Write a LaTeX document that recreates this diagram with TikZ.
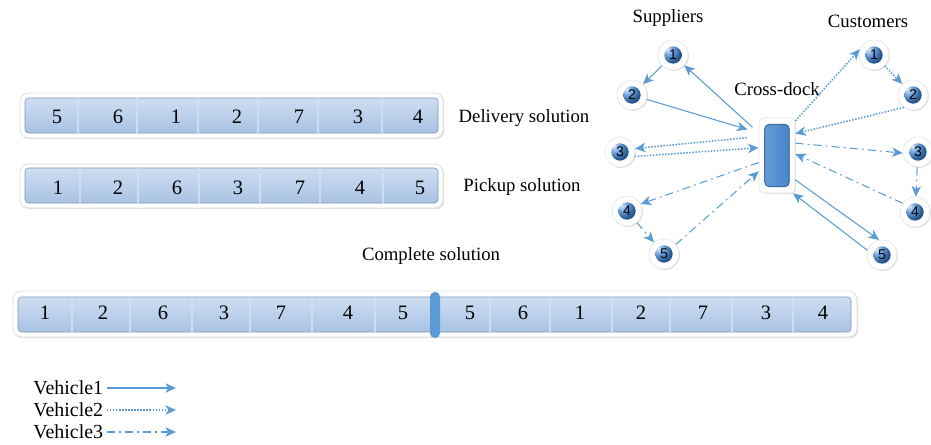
\documentclass[tikz,border=0pt]{standalone}
\usepackage{fontspec}
\setmainfont{Liberation Serif}
\setsansfont{Liberation Sans}
\usetikzlibrary{arrows.meta, positioning, shadows}

\definecolor{lineblue}{RGB}{91,155,213}
\definecolor{celltop}{RGB}{206,222,242}
\definecolor{cellbot}{RGB}{168,194,228}
\definecolor{cellline}{RGB}{125,150,185}
\definecolor{ballblue}{RGB}{58,128,208}
\definecolor{dockblue}{RGB}{62,128,200}

\begin{document}
\begin{tikzpicture}[
    x=0.03cm, y=-0.03cm,
    frame/.style={fill=white, draw=black!12, line width=0.8pt, rounded corners=7pt,
      drop shadow={opacity=0.25, shadow xshift=1pt, shadow yshift=-1pt}},
    strip/.style={draw=cellline, line width=0.5pt, top color=celltop, bottom color=cellbot, rounded corners=3pt},
    divider/.style={draw=lineblue, double=celltop, double distance=1.1pt, line width=0.7pt},
    cellnum/.style={inner sep=1pt, font=\fontsize{17.5}{20}\selectfont},
    title/.style={inner sep=1pt, font=\fontsize{16}{19}\selectfont},
    group/.style={inner sep=1pt, font=\fontsize{16}{19}\selectfont},
    stop/.style={circle, fill=white, draw=black!10, line width=0.6pt, minimum size=0.9cm, inner sep=0pt,
      font=\sffamily\fontsize{12}{12}\selectfont,
      drop shadow={opacity=0.25, shadow xshift=0.8pt, shadow yshift=-0.8pt},
      path picture={\shade[ball color=ballblue] (path picture bounding box.center) circle (0.26cm);}},
    dock/.style={rectangle, rounded corners=4pt, fill=white, draw=black!10, line width=0.6pt,
      minimum width=1.08cm, minimum height=2.25cm,
      drop shadow={opacity=0.25, shadow xshift=0.8pt, shadow yshift=-0.8pt},
      path picture={\shadedraw[left color=dockblue!75!white, right color=dockblue, draw=dockblue!70!black]
        ([shift={(-0.37cm,-0.94cm)}]path picture bounding box.center) rectangle
        ([shift={(0.37cm,0.94cm)}]path picture bounding box.center);}},
    gate/.style={rectangle, rounded corners=4pt, fill=lineblue, minimum width=0.3cm, minimum height=1.38cm},
    route/.style={draw=lineblue, line width=0.9pt, -{Stealth[length=9pt, width=8pt, inset=2.5pt]}},
    veh1/.style={route},
    veh2/.style={route, line width=1.3pt, dash pattern=on 1.3pt off 1.3pt},
    veh3/.style={route, dash pattern=on 7pt off 3.5pt on 1.5pt off 3.5pt}
    ]
    \useasboundingbox (0,0) rectangle (931,444);

    % Bars
    \path[frame] (20,93) rectangle (443,138);
    \path[strip] (25,98) rectangle (438,133);
    \foreach \x in {78,137,198,258,318,382} \draw[divider] (\x,98) -- (\x,133);

    \path[frame] (20,164) rectangle (443,208);
    \path[strip] (25,168) rectangle (438,203);
    \foreach \x in {80,138,199,260,320,383} \draw[divider] (\x,168) -- (\x,203);

    \path[frame] (13,291) rectangle (857,337);
    \path[strip] (18,297) rectangle (851,332);
    \foreach \x in {72,130,192,250,312,375,490,550,612,670,732,793} \draw[divider] (\x,297) -- (\x,332);
    \node[gate] (gate) at (435,315) {};

    % Nodes
    \foreach \v/\x [count=\i] in {5/57,6/118,1/176,2/237,7/299,3/358,4/418}
      \node[cellnum] (del\i) at (\x,117) {\v};
    \foreach \v/\x [count=\i] in {1/58,2/118,6/177,3/238,7/300,4/360,5/420}
      \node[cellnum] (pick\i) at (\x,188) {\v};
    \foreach \v/\x [count=\i] in {1/45,2/103,6/163,3/224,7/281,4/348,5/403,5/470,6/523,1/580,2/641,7/703,3/766,4/823}
      \node[cellnum] (comp\i) at (\x,313) {\v};

    \node[title] (deltitle) at (524,118) {Delivery solution};
    \node[title] (picktitle) at (522,187) {Pickup solution};
    \node[title] (comptitle) at (431,256) {Complete solution};

    \node[dock] (cd) at (777,155.5) {};
    \node[group] (cdtitle) [above=0.62cm of cd] {Cross-dock};
    \node[group] (suppliers) at (668,18) {Suppliers};
    \node[group] (customers) at (868,21) {Customers};

    \node[stop] (s1) at (673,55) {1};
    \node[stop] (s2) at (632,95) {2};
    \node[stop] (s3) at (620,152) {3};
    \node[stop] (s4) at (627,211) {4};
    \node[stop] (s5) at (664,254) {5};

    \node[stop] (c1) at (874,55) {1};
    \node[stop] (c2) at (913,95) {2};
    \node[stop] (c3) at (918,152) {3};
    \node[stop] (c4) at (915,212) {4};
    \node[stop] (c5) at (882,255) {5};

    % Edges
    \draw[veh1] (s1) -- (s2);
    \draw[veh1, shorten >=0.35cm] (s2) -- (cd.129);
    \draw[veh1, shorten <=0.25cm] (cd.129) -- (s1);
    \draw[veh1] (cd.-53) -- (c5.101);
    \draw[veh1] (c5.162) -- (cd.-67);

    \draw[veh2, shorten <=0.36cm] (cd.134) -- (s3.13);
    \draw[veh2] (s3.-17) -- (cd.157);
    \draw[veh2] (cd.62) -- (c1.158);
    \draw[veh2] (c1) -- (c2);
    \draw[veh2] (c2.234) -- (cd.50);

    \draw[veh3] (cd.201) -- (s4.27);
    \draw[veh3] (s4) -- (s5);
    \draw[veh3] (s5.39) -- (cd.221);
    \draw[veh3] (cd.34) -- (c3.184);
    \draw[veh3] (c3) -- (c4);
    \draw[veh3] (c4.145) -- (cd.5);

    % Legend
    \node[group, anchor=west, font=\fontsize{17}{20}\selectfont] (v1) at (32,388) {Vehicle1};
    \node[group, anchor=west, font=\fontsize{17}{20}\selectfont] (v2) at (32,410) {Vehicle2};
    \node[group, anchor=west, font=\fontsize{17}{20}\selectfont] (v3) at (32,432) {Vehicle3};
    \coordinate (v1end) at (176,388);
    \coordinate (v2end) at (176,410);
    \coordinate (v3end) at (176,432);
    \draw[veh1, shorten <=2pt] (v1) -- (v1end);
    \draw[veh2, shorten <=2pt] (v2) -- (v2end);
    \draw[veh3, shorten <=2pt] (v3) -- (v3end);

  \end{tikzpicture}
\end{document}
